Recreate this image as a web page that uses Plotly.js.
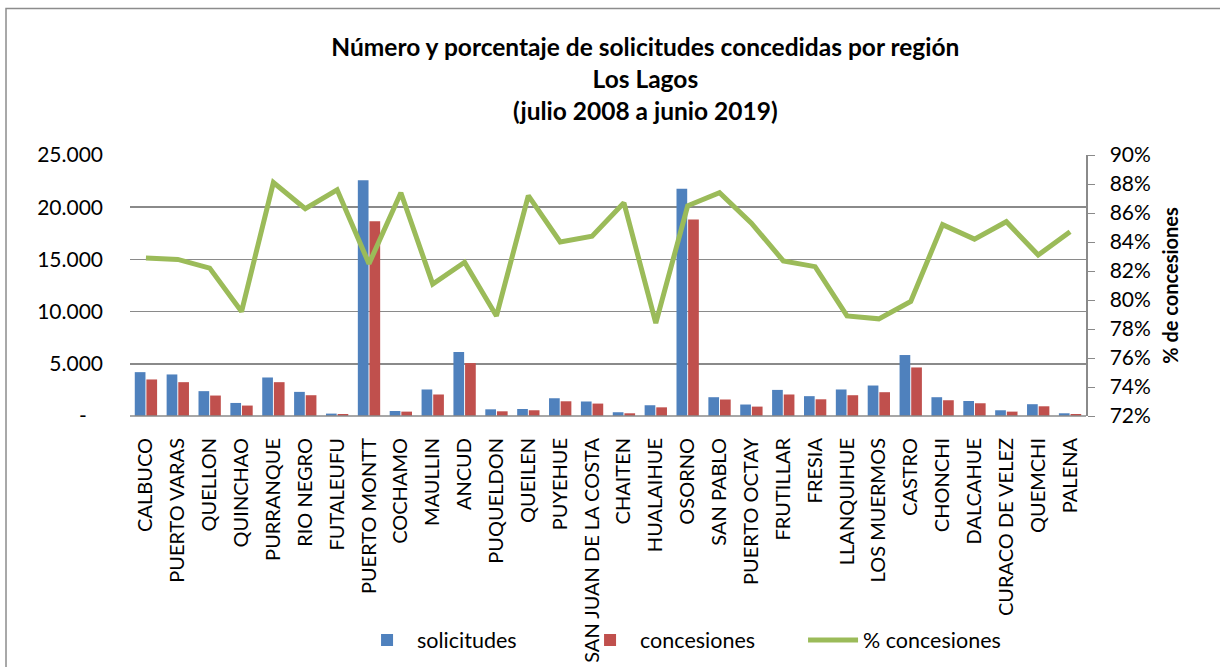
<!DOCTYPE html>
<html>
<head>
<meta charset="utf-8">
<script src="https://cdn.plot.ly/plotly-3.0.1.min.js"></script>
<style>html,body{margin:0;padding:0;background:#fff;}#chart{width:1220px;height:667px;}</style>
</head>
<body>
<div id="chart"></div>
<script>
var categories = ["CALBUCO","PUERTO VARAS","QUELLON","QUINCHAO","PURRANQUE","RIO NEGRO","FUTALEUFU","PUERTO MONTT","COCHAMO","MAULLIN","ANCUD","PUQUELDON","QUEILEN","PUYEHUE","SAN JUAN DE LA COSTA","CHAITEN","HUALAIHUE","OSORNO","SAN PABLO","PUERTO OCTAY","FRUTILLAR","FRESIA","LLANQUIHUE","LOS MUERMOS","CASTRO","CHONCHI","DALCAHUE","CURACO DE VELEZ","QUEMCHI","PALENA"];
var solicitudes = [4200,3980,2380,1250,3690,2310,230,22570,480,2540,6130,640,670,1700,1390,360,1030,21770,1800,1100,2500,1900,2540,2920,5840,1800,1440,550,1130,260];
var concesiones = [3500,3240,1960,1000,3240,1990,190,18650,420,2060,5070,450,550,1410,1190,260,830,18820,1580,900,2060,1600,1990,2280,4650,1510,1220,420,930,190];
var pctConcesiones = [82.9,82.8,82.2,79.2,88.1,86.3,87.6,82.5,87.4,81.1,82.6,78.9,87.2,84.0,84.4,86.7,78.4,86.5,87.4,85.3,82.7,82.3,78.9,78.7,79.9,85.2,84.2,85.4,83.1,84.7];
var leftTickVals = [0,5000,10000,15000,20000,25000];
var leftTickText = ["-\u00a0\u00a0\u00a0","5.000","10.000","15.000","20.000","25.000"];
var rightTickVals = [72,74,76,78,80,82,84,86,88,90];
var rightTickText = ["72%","74%","76%","78%","80%","82%","84%","86%","88%","90%"];

var FONT = 'Lato, "Liberation Sans", sans-serif';

var traces = [
  {type:'bar', name:'solicitudes', x:categories, y:solicitudes, marker:{color:'#4F81BD'}, yaxis:'y'},
  {type:'bar', name:'concesiones', x:categories, y:concesiones, marker:{color:'#C0504D'}, yaxis:'y'},
  {type:'scatter', mode:'lines', name:'% concesiones', x:categories, y:pctConcesiones, line:{color:'#9BBB59', width:5}, yaxis:'y2'}
];

var layout = {
  width:1220, height:667,
  margin:{l:130, r:134, t:155, b:251, autoexpand:false},
  paper_bgcolor:'#fff', plot_bgcolor:'#fff',
  font:{family:FONT, size:20, color:'#000'},
  title:{text:'<b>Número y porcentaje de solicitudes concedidas por región<br>Los Lagos<br>(julio 2008 a junio 2019)</b>',
         font:{family:FONT, size:24.5, color:'#000'}, x:0.529, xanchor:'center', y:0.916, yanchor:'top', yref:'container'},
  barmode:'group', bargap:0.27, bargroupgap:0.08,
  showlegend:true,
  legend:{orientation:'h', x:0.2375, xanchor:'left', y:-0.858, yanchor:'middle', bgcolor:'rgba(0,0,0,0)', font:{family:FONT, size:21.5}, entrywidth:158, entrywidthmode:'pixels', itemwidth:50},
  xaxis:{type:'category', tickangle:-90, showgrid:false, zeroline:false, showline:false, ticks:'', tickfont:{family:FONT, size:20}, ticklabelstandoff:17, automargin:false},
  yaxis:{range:[0,25000], tickvals:leftTickVals, ticktext:leftTickText, showgrid:true, gridcolor:'#8a8a8a', gridwidth:1.5, zeroline:false, showline:false, ticks:'', tickfont:{family:FONT, size:21}, ticklabelstandoff:26, automargin:false},
  yaxis2:{overlaying:'y', side:'right', range:[72,90], tickvals:rightTickVals, ticktext:rightTickText, showgrid:false, zeroline:false, showline:true, linecolor:'#8a8a8a', linewidth:1.5, ticks:'outside', ticklen:7, tickcolor:'#8a8a8a', tickfont:{family:FONT, size:21}, ticklabelstandoff:11, automargin:false,
          title:{text:'<b>% de concesiones</b>', font:{family:FONT, size:20}, standoff:14}},
  shapes:[
    {type:'line', xref:'paper', yref:'paper', x0:0, x1:1, y0:0, y1:0, line:{color:'#8a8a8a', width:1.5}},
    {type:'rect', xref:'paper', yref:'paper', x0:-0.1297, x1:1.2, y0:-1.05, y1:1.561, line:{color:'#8c8c8c', width:1.5}, fillcolor:'rgba(0,0,0,0)', layer:'below'}
  ]
};

Plotly.newPlot('chart', traces, layout, {displayModeBar:false, staticPlot:true});
</script>
</body>
</html>
